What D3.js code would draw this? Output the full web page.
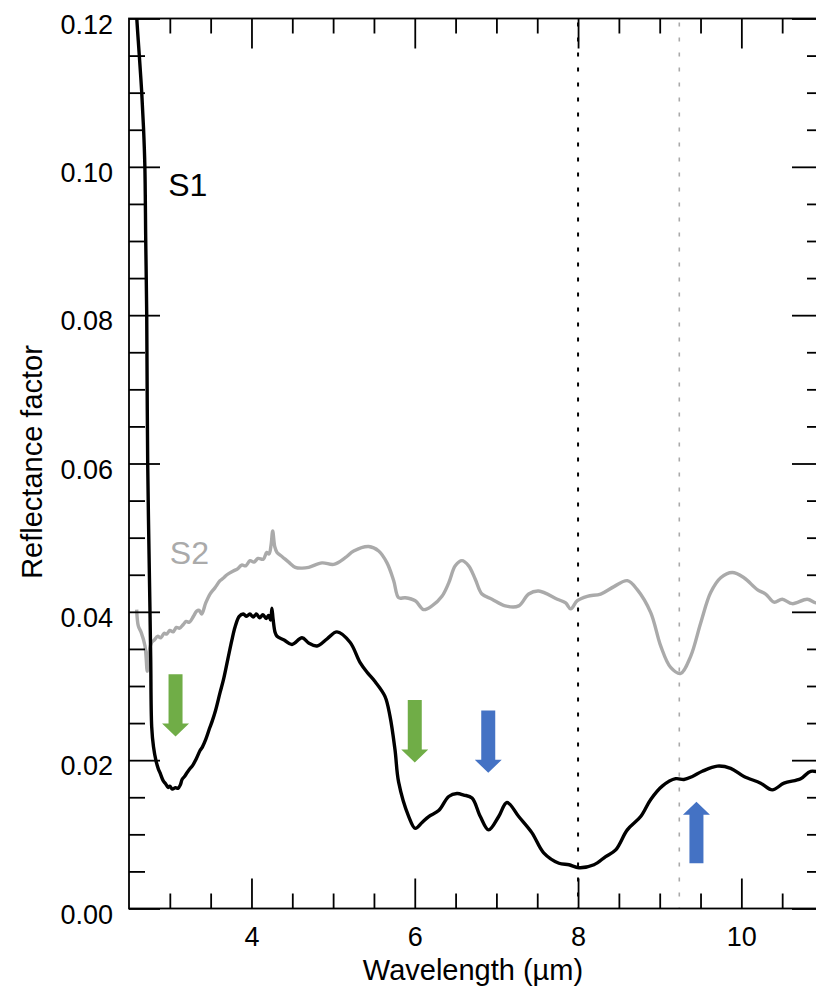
<!doctype html>
<html>
<head>
<meta charset="utf-8">
<title>Reflectance spectra</title>
<script src="https://d3js.org/d3.v7.min.js"></script>
<style>
  body { margin: 0; background: #fff; }
  svg { display: block; }
  text { font-family: "Liberation Sans", Arial, Helvetica, sans-serif; fill: #000; }
</style>
</head>
<body>
<svg></svg>
<script>
var w = 816, h = 990;
var plotLeft = 129, plotRight = 823, plotTop = 18.5, plotBottom = 908.5;

// S1 (black) spectrum
var s1Wavelength = [2.58, 2.594, 2.625, 2.655, 2.678, 2.694, 2.705, 2.717, 2.729, 2.757, 2.766, 2.778, 2.80, 2.831, 2.86, 2.88,
  2.92, 2.95, 2.98, 3.00, 3.03, 3.07, 3.10, 3.13, 3.15, 3.18, 3.21, 3.25, 3.28, 3.32, 3.37, 3.40, 3.44, 3.49, 3.52, 3.56,
  3.615, 3.66, 3.71, 3.76, 3.80, 3.85, 3.90, 3.94, 3.98, 4.02, 4.06, 4.10, 4.14, 4.18, 4.21, 4.235, 4.25, 4.265, 4.29,
  4.313, 4.40, 4.496, 4.619, 4.70, 4.802, 4.93, 5.047, 5.207, 5.329, 5.42, 5.513, 5.635, 5.697, 5.758, 5.803, 5.926,
  6.006, 6.09, 6.171, 6.293, 6.416, 6.517, 6.60, 6.701, 6.803, 6.905, 7.028, 7.129, 7.273, 7.436, 7.579, 7.766, 7.889,
  8.011, 8.195, 8.338, 8.461, 8.603, 8.767, 8.89, 9.031, 9.196, 9.297, 9.40, 9.521, 9.705, 9.869, 10.032, 10.237,
  10.379, 10.522, 10.727, 10.849, 10.99];
var s1Reflectance = [0.1240, 0.1203, 0.1152, 0.1102, 0.1052, 0.1002, 0.0900, 0.0802, 0.0601, 0.0401, 0.0336, 0.0245, 0.0218, 0.0199, 0.0188, 0.0183,
  0.0172, 0.0168, 0.0163, 0.0165, 0.0161, 0.0163, 0.0162, 0.0167, 0.0174, 0.0178, 0.0183, 0.0189, 0.0193, 0.0201, 0.0213, 0.0218, 0.0228, 0.0244, 0.0253, 0.0267,
  0.0291, 0.0310, 0.0336, 0.0362, 0.0380, 0.0394, 0.0397, 0.0394, 0.0397, 0.0393, 0.0397, 0.0392, 0.0396, 0.0391, 0.0395, 0.0389, 0.0405, 0.0390, 0.0372,
  0.0367, 0.0362, 0.0356, 0.0365, 0.0358, 0.0354, 0.0364, 0.0373, 0.0359, 0.0332, 0.0318, 0.0306, 0.0286, 0.0259, 0.0214, 0.0170, 0.0124,
  0.0108, 0.0116, 0.0124, 0.0132, 0.0151, 0.0155, 0.0153, 0.0149, 0.0124, 0.0106, 0.0124, 0.0143, 0.0124, 0.0102, 0.0075, 0.0061, 0.0059,
  0.0055, 0.0059, 0.0070, 0.0079, 0.0106, 0.0124, 0.0147, 0.0165, 0.0175, 0.0174, 0.0178, 0.0185, 0.0192, 0.0189, 0.0178, 0.0169,
  0.0160, 0.0169, 0.0175, 0.0185, 0.0182];

// S2 (grey) spectrum
var s2Wavelength = [2.594, 2.614, 2.65, 2.696, 2.724, 2.745, 2.778, 2.81, 2.85, 2.89, 2.93, 2.962, 3.00, 3.04, 3.08, 3.12, 3.165,
  3.20, 3.24, 3.29, 3.329, 3.36, 3.39, 3.44, 3.492, 3.55, 3.615, 3.66, 3.70, 3.777, 3.83, 3.88, 3.93, 3.982, 4.03, 4.08,
  4.145, 4.186, 4.215, 4.24, 4.26, 4.285, 4.313, 4.38, 4.456, 4.537, 4.62, 4.701, 4.864, 5.007, 5.149, 5.252, 5.436,
  5.558, 5.66, 5.742, 5.803, 5.884, 6.006, 6.109, 6.211, 6.333, 6.416, 6.496, 6.578, 6.66, 6.741, 6.823, 6.946, 7.109,
  7.273, 7.395, 7.518, 7.746, 7.848, 7.91, 7.991, 8.113, 8.277, 8.44, 8.603, 8.725, 8.89, 9.012, 9.134, 9.257, 9.379,
  9.502, 9.624, 9.747, 9.889, 10.032, 10.195, 10.298, 10.40, 10.501, 10.624, 10.807, 10.914, 11.0];
var s2Reflectance = [0.0403, 0.0381, 0.0372, 0.0354, 0.0320, 0.0345, 0.0359, 0.0362, 0.0367, 0.0365, 0.0371, 0.0370, 0.0375, 0.0373, 0.0379, 0.0378, 0.0383,
  0.0387, 0.0386, 0.0394, 0.0401, 0.0402, 0.0397, 0.0412, 0.0424, 0.0432, 0.0442, 0.0446, 0.0450, 0.0455, 0.0458, 0.0463, 0.0462, 0.0469, 0.0467, 0.0472,
  0.0471, 0.0480, 0.0478, 0.0490, 0.0509, 0.0488, 0.0480, 0.0474, 0.0467, 0.0460, 0.0459, 0.0460, 0.0466, 0.0464, 0.0473, 0.0482, 0.0488,
  0.0482, 0.0466, 0.0442, 0.0419, 0.0419, 0.0415, 0.0403, 0.0408, 0.0421, 0.0439, 0.0462, 0.0469, 0.0462, 0.0444, 0.0424, 0.0417, 0.0408,
  0.0408, 0.0424, 0.0428, 0.0417, 0.0412, 0.0404, 0.0415, 0.0421, 0.0424, 0.0434, 0.0442, 0.0430, 0.0399, 0.0354, 0.0325, 0.0317, 0.0340,
  0.0385, 0.0426, 0.0446, 0.0453, 0.0446, 0.0430, 0.0424, 0.0413, 0.0417, 0.0411, 0.0417, 0.0412, 0.0413];

// tick values
var xMajorTicks = [4, 6, 8, 10];
var xMinorTicks = [3, 3.5, 4.5, 5, 5.5, 6.5, 7, 7.5, 8.5, 9, 9.5, 10.5];
var yMajorTicks = [0, 0.02, 0.04, 0.06, 0.08, 0.10, 0.12];
var yMinorTicks = [0.005, 0.01, 0.015, 0.025, 0.03, 0.035, 0.045, 0.05, 0.055, 0.065, 0.07, 0.075, 0.085, 0.09, 0.095, 0.105, 0.11, 0.115];

// reference lines
var refLines = [8.0, 9.24];
var refColors = ['#000', '#aaa'];

// band arrows
var arrowX = [3.07, 6.0, 6.9, 9.45];
var arrowFrom = [0.0316, 0.0281, 0.0267, 0.0061];
var arrowTo = [0.0232, 0.0197, 0.0183, 0.0144];
var arrowColor = ['#70ad47', '#70ad47', '#4472c4', '#4472c4'];

var x = d3.scaleLinear().domain([2.5, 11]).range([plotLeft, plotRight]);
var y = d3.scaleLinear().domain([0, 0.12]).range([plotBottom, plotTop]);

var svg = d3.select('svg').attr('width', w).attr('height', h);

svg.append('defs').append('clipPath').attr('id', 'plot')
  .append('rect').attr('x', plotLeft).attr('y', plotTop)
  .attr('width', plotRight - plotLeft).attr('height', plotBottom - plotTop);

// dotted reference lines
svg.selectAll('.ref').data(refLines).enter().append('line')
  .attr('x1', function(d) { return x(d); })
  .attr('x2', function(d) { return x(d); })
  .attr('y1', plotTop + 4).attr('y2', plotBottom)
  .attr('stroke', function(d, i) { return refColors[i]; })
  .attr('stroke-width', function(d, i) { return i === 0 ? 2 : 1.6; })
  .attr('stroke-dasharray', '4,11');

var line = d3.line()
  .x(function(d) { return x(d[0]); })
  .y(function(d) { return y(d[1]); })
  .curve(d3.curveCatmullRom.alpha(0.5));

var s2 = d3.zip(s2Wavelength, s2Reflectance);
var s1 = d3.zip(s1Wavelength, s1Reflectance);

svg.append('path').datum(s2)
  .attr('clip-path', 'url(#plot)')
  .attr('fill', 'none').attr('stroke', '#aaa').attr('stroke-width', 3.4)
  .attr('stroke-linejoin', 'round')
  .attr('d', line);

svg.append('path').datum(s1)
  .attr('clip-path', 'url(#plot)')
  .attr('fill', 'none').attr('stroke', '#000').attr('stroke-width', 3.4)
  .attr('stroke-linejoin', 'round')
  .attr('d', line);

// arrows
var shaft = 7, head = 13.5, headLen = 13;
svg.selectAll('.arrow').data(arrowX).enter().append('path')
  .attr('fill', function(d, i) { return arrowColor[i]; })
  .attr('d', function(d, i) {
    var cx = x(d), y0 = y(arrowFrom[i]), y1 = y(arrowTo[i]);
    var dir = y1 > y0 ? 1 : -1;
    var yb = y1 - dir * headLen;
    return 'M' + (cx - shaft) + ',' + y0 + 'L' + (cx + shaft) + ',' + y0 +
      'L' + (cx + shaft) + ',' + yb + 'L' + (cx + head) + ',' + yb +
      'L' + cx + ',' + y1 + 'L' + (cx - head) + ',' + yb +
      'L' + (cx - shaft) + ',' + yb + 'Z';
  });

// axes (ticks pointing inward)
function styleAxis(g) {
  g.select('.domain').remove();
  g.selectAll('line').attr('stroke', '#000').attr('stroke-width', 1.8);
}

svg.append('g').attr('transform', 'translate(0,' + plotBottom + ')')
  .call(d3.axisBottom(x).tickValues(xMinorTicks).tickSize(-15).tickFormat(''))
  .call(styleAxis);
svg.append('g').attr('transform', 'translate(0,' + plotBottom + ')')
  .call(d3.axisBottom(x).tickValues(xMajorTicks).tickSize(-30).tickPadding(18).tickFormat(d3.format('d')))
  .call(styleAxis)
  .selectAll('text').attr('font-size', 27).attr('font-family', null);

svg.append('g').attr('transform', 'translate(0,' + plotTop + ')')
  .call(d3.axisTop(x).tickValues(xMinorTicks).tickSize(-15).tickFormat(''))
  .call(styleAxis);
svg.append('g').attr('transform', 'translate(0,' + plotTop + ')')
  .call(d3.axisTop(x).tickValues(xMajorTicks).tickSize(-30).tickFormat(''))
  .call(styleAxis);

svg.append('g').attr('transform', 'translate(' + plotLeft + ',0)')
  .call(d3.axisLeft(y).tickValues(yMinorTicks).tickSize(-16).tickFormat(''))
  .call(styleAxis);
svg.append('g').attr('transform', 'translate(' + plotLeft + ',0)')
  .call(d3.axisLeft(y).tickValues(yMajorTicks).tickSize(-31).tickPadding(16).tickFormat(d3.format('.2f')))
  .call(styleAxis)
  .selectAll('text').attr('font-size', 27).attr('font-family', null).attr('dy', 14.5);

svg.append('g').attr('transform', 'translate(' + plotRight + ',0)')
  .call(d3.axisRight(y).tickValues(yMinorTicks).tickSize(-16).tickFormat(''))
  .call(styleAxis);
svg.append('g').attr('transform', 'translate(' + plotRight + ',0)')
  .call(d3.axisRight(y).tickValues(yMajorTicks).tickSize(-31).tickFormat(''))
  .call(styleAxis);

// frame
svg.append('rect').attr('x', plotLeft).attr('y', plotTop)
  .attr('width', plotRight - plotLeft).attr('height', plotBottom - plotTop)
  .attr('fill', 'none').attr('stroke', '#000').attr('stroke-width', 1.8);

// axis titles
svg.append('text').attr('x', 473).attr('y', 980)
  .attr('text-anchor', 'middle').attr('font-size', 29)
  .text('Wavelength (\u00b5m)');
svg.append('text').attr('transform', 'translate(42,462) rotate(-90)')
  .attr('text-anchor', 'middle').attr('font-size', 29)
  .text('Reflectance factor');

// series labels
svg.append('text').attr('x', x(2.98)).attr('y', y(0.0961))
  .attr('font-size', 32).text('S1');
svg.append('text').attr('x', x(3.0)).attr('y', y(0.0464))
  .attr('font-size', 32).style('fill', '#aaa').text('S2');
</script>
</body>
</html>
